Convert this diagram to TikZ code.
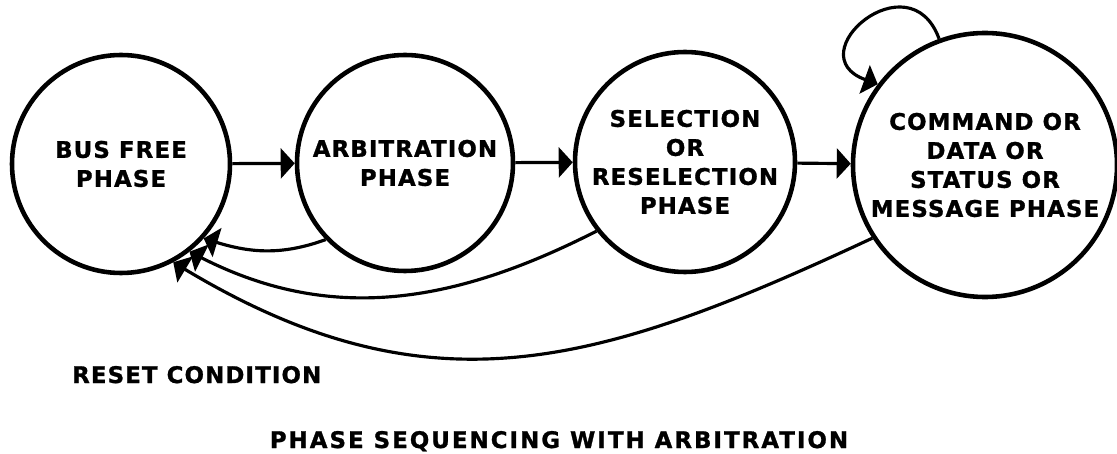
\documentclass[tikz,border=0pt]{standalone}
\usepackage{fontspec}
\setmainfont{DejaVu Sans}[LetterSpace=5, BoldFeatures={FakeBold=1.2}]
\usetikzlibrary{arrows.meta}

\begin{document}
\begin{tikzpicture}[
    phase/.style={circle, draw, line width=2.6pt, inner sep=0pt, align=center,
        font=\bfseries\fontsize{13}{16.5}\selectfont},
    flow/.style={line width=1.8pt, -{Triangle[length=2.8mm, width=6mm]}},
    caption/.style={font=\bfseries\fontsize{13}{16.5}\selectfont}
]
    \useasboundingbox (0,0) rectangle (22.34,9.06);

    % Phases
    \node[phase, minimum size=4.36cm] (bus) at (2.42,5.78) {BUS FREE\\PHASE};
    \node[phase, minimum size=4.32cm] (arb) at (8.10,5.80) {ARBITRATION\\PHASE};
    \node[phase, minimum size=4.40cm] (sel) at (13.70,5.82) {SELECTION\\OR\\RESELECTION\\PHASE};
    \node[phase, minimum size=5.28cm] (cmd) at (19.70,5.76) {COMMAND OR\\DATA OR\\STATUS OR\\MESSAGE PHASE};

    % Forward sequence
    \draw[flow] (bus) -- (arb);
    \draw[flow] (arb) -- (sel);
    \draw[flow] (sel) -- (cmd);

    % Information transfer phases repeat
    \draw[flow] (cmd.110) to[out=110, in=160, looseness=2.9] (cmd.143);

    % Back to bus free
    \draw[flow] (arb.224) to[out=200, in=-17] (bus.-42);
    \draw[flow] (sel.218) to[out=207, in=-27] (bus.-52);
    \draw[flow] (cmd.213) to[out=205, in=-31, looseness=1.1] (bus.-62);

    % Labels
    \node[caption, anchor=base west] (reset) at (1.32,1.40) {RESET CONDITION};
    \node[caption, anchor=base] (title) at (11.18,0.10)
        {\addfontfeatures{LetterSpace=9}PHASE SEQUENCING WITH ARBITRATION};
\end{tikzpicture}
\end{document}
